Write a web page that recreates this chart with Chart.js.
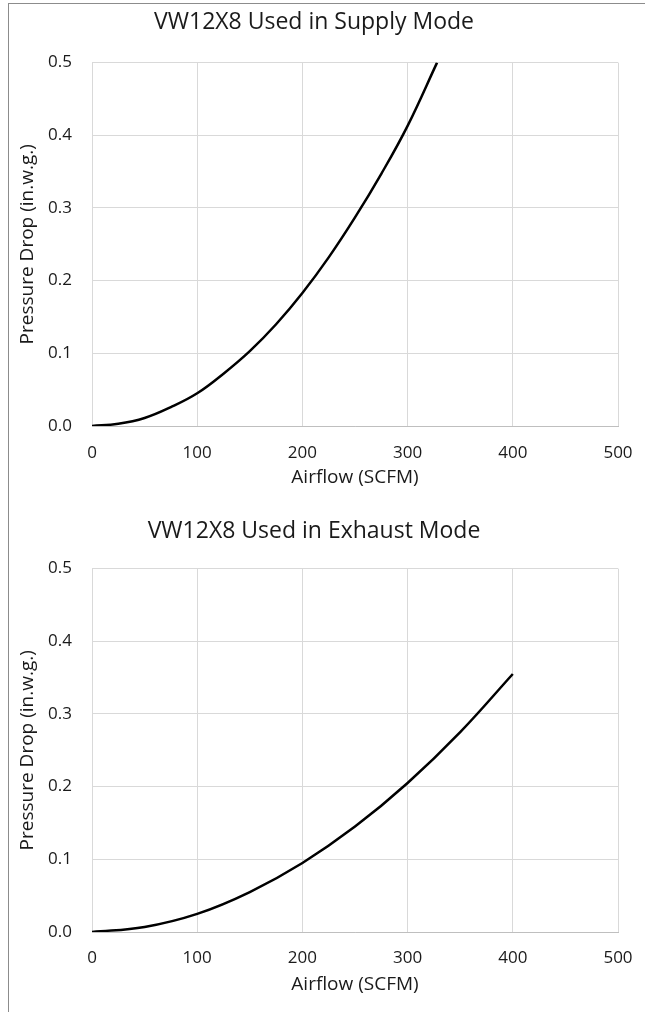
<!DOCTYPE html>
<html>
<head>
<meta charset="utf-8">
<script src="https://cdn.jsdelivr.net/npm/chart.js@4.4.1/dist/chart.umd.min.js"></script>
<style>
  html, body { margin: 0; padding: 0; background: #fff; }
  #page { position: relative; width: 645px; height: 1012px; overflow: hidden; }
  /* frame lines round the figure */
  #frameTop { position: absolute; left: 8px; top: 3px; width: 637px; height: 1px; background: #8c8c8c; }
  #frameLeft { position: absolute; left: 8px; top: 3px; width: 1px; height: 1009px; background: #8c8c8c; }
  .box { position: absolute; left: 0; width: 645px; }
  #box1 { top: 0; height: 505px; }
  #box2 { top: 505px; height: 507px; }
</style>
</head>
<body>
<div id="page">
  <div id="frameTop"></div>
  <div id="frameLeft"></div>
  <div class="box" id="box1"><canvas id="supplyChart"></canvas></div>
  <div class="box" id="box2"><canvas id="exhaustChart"></canvas></div>
</div>
<script>
// ─── Data ────────────────────────────────────────────────────────────
const xTicks = [0, 100, 200, 300, 400, 500];
const yTicks = [0.0, 0.1, 0.2, 0.3, 0.4, 0.5];

// Supply mode curve (airflow SCFM -> pressure drop in.w.g.)
const supplyAirflow = [0, 25, 50, 75, 100, 125, 150, 175, 200, 225, 250, 275, 300, 328];
const supplyDrop = [0, 0.003, 0.011, 0.026, 0.045, 0.072, 0.103, 0.140, 0.183, 0.232, 0.287, 0.347, 0.413, 0.500];

// Exhaust mode curve
const exhaustAirflow = [0, 50, 100, 150, 200, 250, 300, 350, 400];
const exhaustDrop = [0, 0.007, 0.025, 0.055, 0.095, 0.145, 0.205, 0.275, 0.355];

const FONT = "'Open Sans', 'DejaVu Sans', sans-serif";
const TEXT = '#1a1a1a';
const GRID = '#d9d9d9';

// ─── Chart builder ───────────────────────────────────────────────────
function makeChart(canvasId, title, xs, ys, lay) {
    const ctx = document.getElementById(canvasId);
    const points = xs.map((x, i) => ({ x: x, y: ys[i] }));

    return new Chart(ctx, {
        type: 'scatter',
        data: {
            datasets: [{
                data: points,
                showLine: true,
                borderColor: '#000',
                borderWidth: 2.5,
                pointRadius: 0,
                tension: 0.4,
                fill: false
            }]
        },
        options: {
            responsive: true,
            maintainAspectRatio: false,
            animation: false,
            layout: { padding: { left: 10, right: 27, top: 0, bottom: 0 } },
            plugins: {
                legend: { display: false },
                tooltip: { enabled: false },
                title: {
                    display: true,
                    text: title,
                    color: TEXT,
                    font: { family: FONT, size: 23, weight: 'normal' },
                    padding: { top: lay.titleTop, bottom: lay.titleBottom }
                }
            },
            scales: {
                x: {
                    type: 'linear',
                    min: 0,
                    max: 500,
                    afterBuildTicks: s => { s.ticks = xTicks.map(v => ({ value: v })); },
                    afterFit: s => {
                        s.height = lay.xHeight;
                        // let the layout padding alone decide the plot's right edge
                        s.paddingLeft = 0;
                        s.paddingRight = 0;
                    },
                    grid: { color: GRID, drawTicks: false },
                    border: { color: '#bfbfbf', width: 1 },
                    ticks: {
                        color: TEXT,
                        padding: lay.xTickPad,
                        maxRotation: 0,
                        font: { family: FONT, size: 17 }
                    },
                    title: {
                        display: true,
                        text: 'Airflow (SCFM)',
                        color: TEXT,
                        font: { family: FONT, size: 19 },
                        padding: { top: 0, bottom: lay.xTitlePad }
                    }
                },
                y: {
                    type: 'linear',
                    min: 0,
                    max: 0.5,
                    afterBuildTicks: s => { s.ticks = yTicks.map(v => ({ value: v })); },
                    afterFit: s => { s.width = 82; },
                    grid: { color: GRID, drawTicks: false },
                    border: { display: false },
                    ticks: {
                        color: TEXT,
                        padding: 20,
                        font: { family: FONT, size: 17 },
                        callback: v => Number(v).toFixed(1)
                    },
                    title: {
                        display: true,
                        text: 'Pressure Drop (in.w.g.)',
                        color: TEXT,
                        font: { family: FONT, size: 19 },
                        padding: { top: 6, bottom: 0 }
                    }
                }
            }
        }
    });
}

makeChart('supplyChart', 'VW12X8 Used in Supply Mode', supplyAirflow, supplyDrop,
    { titleTop: 9, titleBottom: 26, xHeight: 79, xTickPad: 17, xTitlePad: 16 });

makeChart('exhaustChart', 'VW12X8 Used in Exhaust Mode', exhaustAirflow, exhaustDrop,
    { titleTop: 13, titleBottom: 23, xHeight: 80, xTickPad: 16, xTitlePad: 16 });
</script>
</body>
</html>
